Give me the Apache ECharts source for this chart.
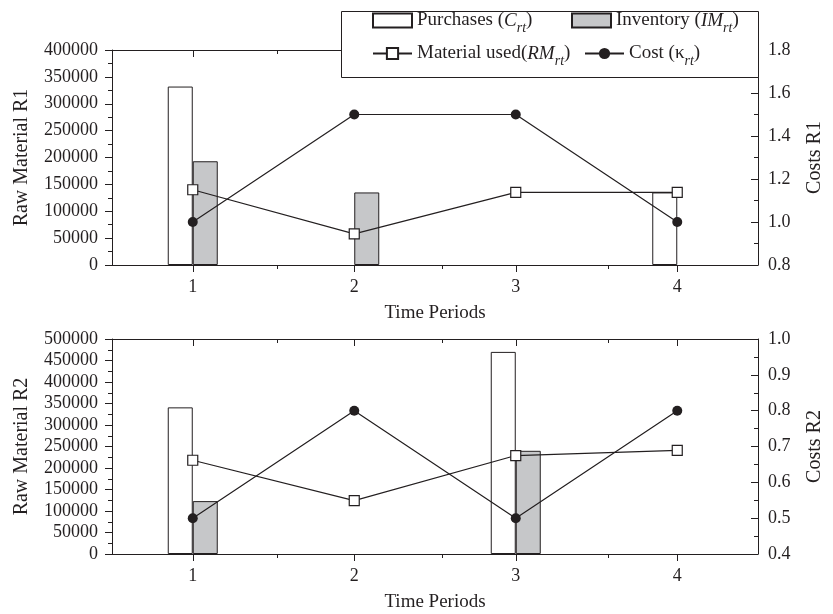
<!DOCTYPE html>
<html><head><meta charset="utf-8">
<script src="https://cdn.jsdelivr.net/npm/echarts@6/dist/echarts.min.js"></script>
<style>html,body{margin:0;padding:0;background:#fff}#c{width:833px;height:614px}</style>
</head><body><div id="c"></div>
<script>
// ---- data ----
const periods = ['1', '2', '3', '4'];
const purchasesR1 = [332000, 0, 0, 135000];
const inventoryR1 = [193000, 135000, 0, 0];
const usedR1 = [140000, 58000, 135000, 135000];
const costR1 = [1.0, 1.5, 1.5, 1.0];
const purchasesR2 = [341000, 0, 470000, 0];
const inventoryR2 = [123000, 0, 240000, 0];
const usedR2 = [218000, 124000, 229000, 241000];
const costR2 = [0.5, 0.8, 0.5, 0.8];
// axis ranges [min, max, interval]
const rawR1Ticks = [0, 400000, 50000];
const costR1Ticks = [0.8, 1.8, 0.2];
const rawR2Ticks = [0, 500000, 50000];
const costR2Ticks = [0.4, 1.0, 0.1];
const halfTicks = [0.5, 4.5, 0.5];
const betweenPeriodTicks = [1.5, 2.5, 3.5];

const FONT = 'Liberation Serif';
const INK = '#231f20';
const chart = echarts.init(document.getElementById('c'));

// zero-height bars are not drawn in the reference
const barData = arr => arr.map(v => (v === 0 ? null : v));

function mainX(grid, pos) {
  const bottom = pos === 'bottom';
  return {
    type: 'category', gridIndex: grid, position: pos, data: periods, boundaryGap: true,
    axisLine: {show: true, lineStyle: {color: INK, width: 1}},
    axisTick: {show: true, alignWithLabel: true, inside: !bottom, length: 7, lineStyle: {color: INK}},
    axisLabel: {show: bottom, margin: 13, fontSize: 18, fontFamily: FONT, color: INK},
    splitLine: {show: false},
    name: bottom ? 'Time Periods' : '', nameLocation: 'middle', nameGap: 39,
    nameTextStyle: {fontSize: 19, fontFamily: FONT, color: INK}
  };
}
function halfX(grid, pos) {
  return {
    type: 'value', gridIndex: grid, position: pos,
    min: halfTicks[0], max: halfTicks[1], interval: halfTicks[2],
    axisLine: {show: false}, axisLabel: {show: false}, splitLine: {show: false},
    axisTick: {show: true, inside: pos === 'top', length: 4, customValues: betweenPeriodTicks,
               lineStyle: {color: INK}}
  };
}
function leftY(grid, t, name) {
  return {
    type: 'value', gridIndex: grid, position: 'left', min: t[0], max: t[1], interval: t[2],
    axisLine: {show: true, lineStyle: {color: INK}},
    axisTick: {show: true, inside: false, length: 7, lineStyle: {color: INK}},
    minorTick: {show: true, splitNumber: 2, length: 4, lineStyle: {color: INK}},
    axisLabel: {margin: 14, fontSize: 18, fontFamily: FONT, color: INK, formatter: v => String(v)},
    splitLine: {show: false},
    name: name, nameLocation: 'middle', nameGap: 80,
    nameTextStyle: {fontSize: 20, fontFamily: FONT, color: INK}
  };
}
function rightY(grid, t, name) {
  return {
    type: 'value', gridIndex: grid, position: 'right', min: t[0], max: t[1], interval: t[2],
    axisLine: {show: true, lineStyle: {color: INK}},
    axisTick: {show: true, inside: true, length: 7, lineStyle: {color: INK}},
    minorTick: {show: true, splitNumber: 2, length: 4, lineStyle: {color: INK}},
    axisLabel: {margin: 10, fontSize: 18, fontFamily: FONT, color: INK, formatter: v => v.toFixed(1)},
    splitLine: {show: false},
    name: name, nameLocation: 'middle', nameGap: 47,
    nameTextStyle: {fontSize: 20, fontFamily: FONT, color: INK}
  };
}
function hiddenY(grid) {
  return {type: 'value', gridIndex: grid, show: false, min: 0, max: 1};
}
function panelSeries(xi, yl, yr, purchases, inventory, used, cost) {
  return [
    {name: 'Purchases', type: 'bar', xAxisIndex: xi, yAxisIndex: yl, data: barData(purchases),
     barWidth: 25, barGap: '0%', itemStyle: {color: '#ffffff', borderColor: INK, borderWidth: 1}},
    {name: 'Inventory', type: 'bar', xAxisIndex: xi, yAxisIndex: yl, data: barData(inventory),
     barWidth: 25, barGap: '0%', itemStyle: {color: '#c6c7c9', borderColor: INK, borderWidth: 1}},
    {name: 'Material used', type: 'line', xAxisIndex: xi, yAxisIndex: yl, data: used, z: 3,
     symbol: 'rect', symbolSize: 10, lineStyle: {color: INK, width: 1.2},
     itemStyle: {color: '#ffffff', borderColor: INK, borderWidth: 1.2}},
    {name: 'Cost', type: 'line', xAxisIndex: xi, yAxisIndex: yr, data: cost, z: 4,
     symbol: 'circle', symbolSize: 10, lineStyle: {color: INK, width: 1.2},
     itemStyle: {color: INK, borderColor: INK, borderWidth: 0}}
  ];
}

const legendText = {
  'Purchases': '{n|Purchases (}{i|C}{s|rt}{n|)}',
  'Inventory': '{n|Inventory (}{i|IM}{s|rt}{n|)}',
  'Material used': '{n|Material used(}{i|RM}{s|rt}{n|)}',
  'Cost': '{n|Cost (κ}{s|rt}{n|)}'
};
const rich = {
  n: {fontSize: 19, fontFamily: FONT, color: INK, lineHeight: 30, verticalAlign: 'middle'},
  i: {fontSize: 19, fontFamily: FONT, fontStyle: 'italic', color: INK, lineHeight: 30, verticalAlign: 'middle'},
  s: {fontSize: 14, fontFamily: FONT, fontStyle: 'italic', color: INK, lineHeight: 18, verticalAlign: 'bottom'}
};
function legendAt(name, left, centerY, icon) {
  const l = {
    data: [name], left: left, top: centerY - 15, padding: 0, itemWidth: 39, itemHeight: 14,
    itemGap: 0, selectedMode: false,
    formatter: n => legendText[n],
    textStyle: {rich: rich, fontFamily: FONT, fontSize: 19, color: INK}
  };
  if (icon) l.icon = icon;
  return l;
}

const option = {
  animation: false,
  backgroundColor: '#ffffff',
  grid: [
    {left: 112, top: 50, width: 661, height: 215},
    {left: 112, top: 50, width: 661, height: 215},
    {left: 112, top: 339, width: 661, height: 215},
    {left: 112, top: 339, width: 661, height: 215}
  ],
  xAxis: [mainX(0, 'bottom'), mainX(0, 'top'), halfX(1, 'bottom'), halfX(1, 'top'),
          mainX(2, 'bottom'), mainX(2, 'top'), halfX(3, 'bottom'), halfX(3, 'top')],
  yAxis: [leftY(0, rawR1Ticks, 'Raw Material R1'), rightY(0, costR1Ticks, 'Costs R1'), hiddenY(1),
          leftY(2, rawR2Ticks, 'Raw Material R2'), rightY(2, costR2Ticks, 'Costs R2'), hiddenY(3)],
  legend: [
    legendAt('Purchases', 372, 26, 'rect'),
    legendAt('Inventory', 571, 26, 'rect'),
    legendAt('Material used', 372, 59),
    legendAt('Cost', 584, 59)
  ],
  graphic: [{
    type: 'rect', z: 3, zlevel: 0,
    shape: {x: 341.5, y: 11.5, width: 417, height: 66},
    style: {fill: '#ffffff', stroke: INK, lineWidth: 1}
  }],
  series: [].concat(
    panelSeries(0, 0, 1, purchasesR1, inventoryR1, usedR1, costR1),
    panelSeries(4, 3, 4, purchasesR2, inventoryR2, usedR2, costR2)
  )
};
chart.setOption(option);
</script></body></html>
